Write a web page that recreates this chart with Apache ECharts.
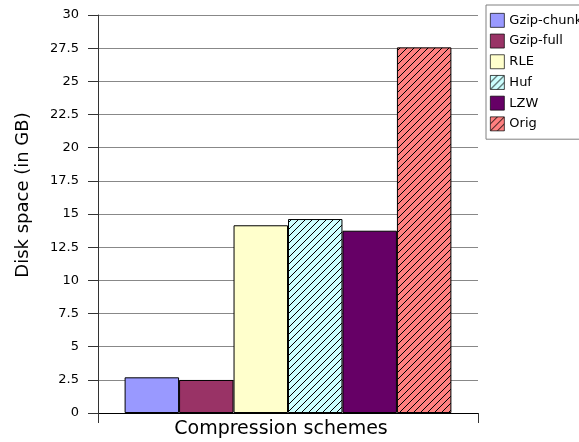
<!DOCTYPE html>
<html>
<head>
<meta charset="utf-8">
<script src="https://cdn.jsdelivr.net/npm/echarts@6/dist/echarts.min.js"></script>
<style>
  html, body { margin: 0; padding: 0; background: #fff; }
  #chart { width: 579px; height: 442px; }
</style>
</head>
<body>
<div id="chart"></div>
<script>
// data
var schemes = ['Gzip-chunk', 'Gzip-full', 'RLE', 'Huf', 'LZW', 'Orig'];
var diskSpace = [2.69, 2.49, 14.15, 14.62, 13.74, 27.56];
var category = ['Compression schemes'];

var fills = ['#9999ff', '#993366', '#ffffcc', '#ccffff', '#660066', '#ff8080'];
var hatched = [false, false, false, true, false, true];

// diagonal "/" hatch tile
function makeHatch(bg) {
  var s = 7;
  var c = document.createElement('canvas');
  c.width = s; c.height = s;
  var ctx = c.getContext('2d');
  ctx.fillStyle = bg;
  ctx.fillRect(0, 0, s, s);
  ctx.fillStyle = '#000';
  for (var i = 0; i < s; i++) {
    ctx.fillRect(i, s - 1 - i, 1, 1);
  }
  return c;
}

var chart = echarts.init(document.getElementById('chart'));

var series = schemes.map(function (name, i) {
  var color = hatched[i] ? { image: makeHatch(fills[i]), repeat: 'repeat' } : fills[i];
  return {
    name: name,
    type: 'bar',
    data: [diskSpace[i]],
    barGap: '0%',
    barCategoryGap: '14%',
    itemStyle: { color: color, borderColor: '#000', borderWidth: 1 }
  };
});

chart.setOption({
  animation: false,
  textStyle: { fontFamily: 'DejaVu Sans' },
  grid: { left: 98, right: 101, top: 15, bottom: 29, outerBoundsMode: 'none' },
  legend: {
    orient: 'vertical',
    left: 486,
    top: 5,
    padding: [8, 14, 8, 4],
    itemWidth: 14,
    itemHeight: 14,
    itemGap: 6,
    borderColor: '#808080',
    borderWidth: 1,
    itemStyle: { borderWidth: 0.7 },
    textStyle: { fontSize: 13, color: '#000', fontFamily: 'DejaVu Sans' },
    data: schemes.map(function (n) { return { name: n, icon: 'rect' }; })
  },
  xAxis: {
    type: 'category',
    data: category,
    name: 'Compression schemes',
    nameLocation: 'middle',
    nameGap: 7,
    nameTextStyle: { fontSize: 19, color: '#000', fontFamily: 'DejaVu Sans', padding: [0, 14, 0, 0] },
    axisLabel: { show: false },
    axisLine: { lineStyle: { color: '#000', width: 1 } },
    axisTick: { show: true, length: 10, lineStyle: { color: '#333' } }
  },
  yAxis: {
    type: 'value',
    min: 0,
    max: 30,
    interval: 2.5,
    name: 'Disk space (in GB)',
    nameLocation: 'middle',
    nameGap: 66,
    nameTextStyle: { fontSize: 18, color: '#000', fontFamily: 'DejaVu Sans', padding: [0, 0, 0, 38] },
    axisLine: { show: true, lineStyle: { color: '#333' } },
    axisTick: { show: true, length: 10, lineStyle: { color: '#333' } },
    axisLabel: { margin: 19, fontSize: 13, color: '#000', fontFamily: 'DejaVu Sans' },
    splitLine: { lineStyle: { color: '#888', width: 1 } }
  },
  series: series
});
</script>
</body>
</html>
